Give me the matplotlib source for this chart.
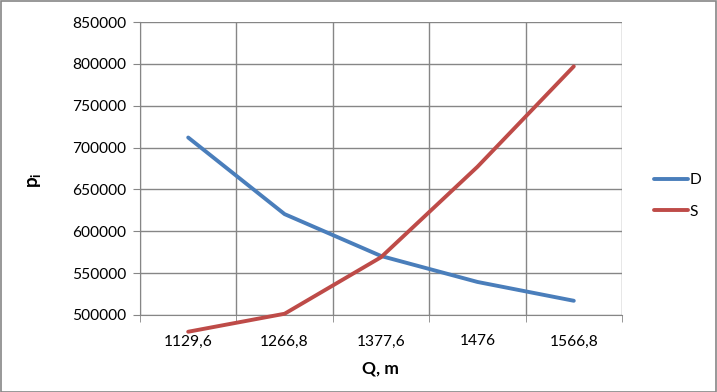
import matplotlib
matplotlib.use("Agg")
import matplotlib.pyplot as plt
from matplotlib.patches import Rectangle

plt.rcParams['font.family'] = ['Lato', 'DejaVu Sans']

categories = ["1129,6", "1266,8", "1377,6", "1476", "1566,8"]
D = [712000, 620500, 570500, 539500, 517000]
S = [480000, 501500, 569000, 677000, 797000]
yticks = [500000, 550000, 600000, 650000, 700000, 750000, 800000, 850000]

fig = plt.figure(figsize=(7.17, 3.92), dpi=100)
W, H = 717, 392
left, right, top, bottom = 140, 622, 22, 315
ax = fig.add_axes([left / W, 1 - bottom / H, (right - left) / W, (bottom - top) / H])

x = list(range(len(categories)))
ax.plot(x, D, color="#4a7ebb", lw=2.8, solid_capstyle="round", label="D", clip_on=False, zorder=3)
ax.plot(x, S, color="#be4b48", lw=2.8, solid_capstyle="round", label="S", clip_on=False, zorder=3)

ax.set_xlim(-0.5, len(categories) - 0.5)
ax.set_ylim(500000, 850000)
ax.set_yticks(yticks)
ax.set_yticklabels([str(v) for v in yticks], fontsize=11.2)
ax.set_xticks(x)
ax.set_xticklabels(categories, fontsize=11.2)
ax.set_xticks([i - 0.5 for i in range(len(categories) + 1)], minor=True)
ax.tick_params(axis='x', which='major', length=0, pad=14)
ax.tick_params(axis='x', which='minor', length=5, color="#868686", direction='out')
ax.tick_params(axis='y', length=5, color="#868686", pad=5)
ax.grid(True, which='major', axis='y', color="#868686", lw=1)
ax.grid(True, which='minor', axis='x', color="#868686", lw=1)
for s in ['top', 'right']:
    ax.spines[s].set_visible(False)
for s in ['left', 'bottom']:
    ax.spines[s].set_color("#868686")
ax.set_axisbelow(True)

fig.text(380 / W, 1 - 368 / H, "Q, m", fontsize=12.5, fontweight='bold', ha='center', va='center')
fig.text(35 / W, 1 - 180 / H, r"p$_\mathregular{i}$", fontsize=13.5, fontweight='bold', rotation=90, ha='center', va='center')

leg = fig.legend(loc='center left', bbox_to_anchor=(640 / W, 1 - 196 / H), frameon=False, fontsize=11.2,
                 handlelength=2.2, handletextpad=0.1, labelspacing=1.1)

fig.patches.append(Rectangle((0.5 / W, 0.5 / H), 1 - 1.5 / W, 1 - 1.5 / H, transform=fig.transFigure,
                             fill=False, edgecolor="#868686", lw=1.2))
fig.savefig("out.png", dpi=100)
